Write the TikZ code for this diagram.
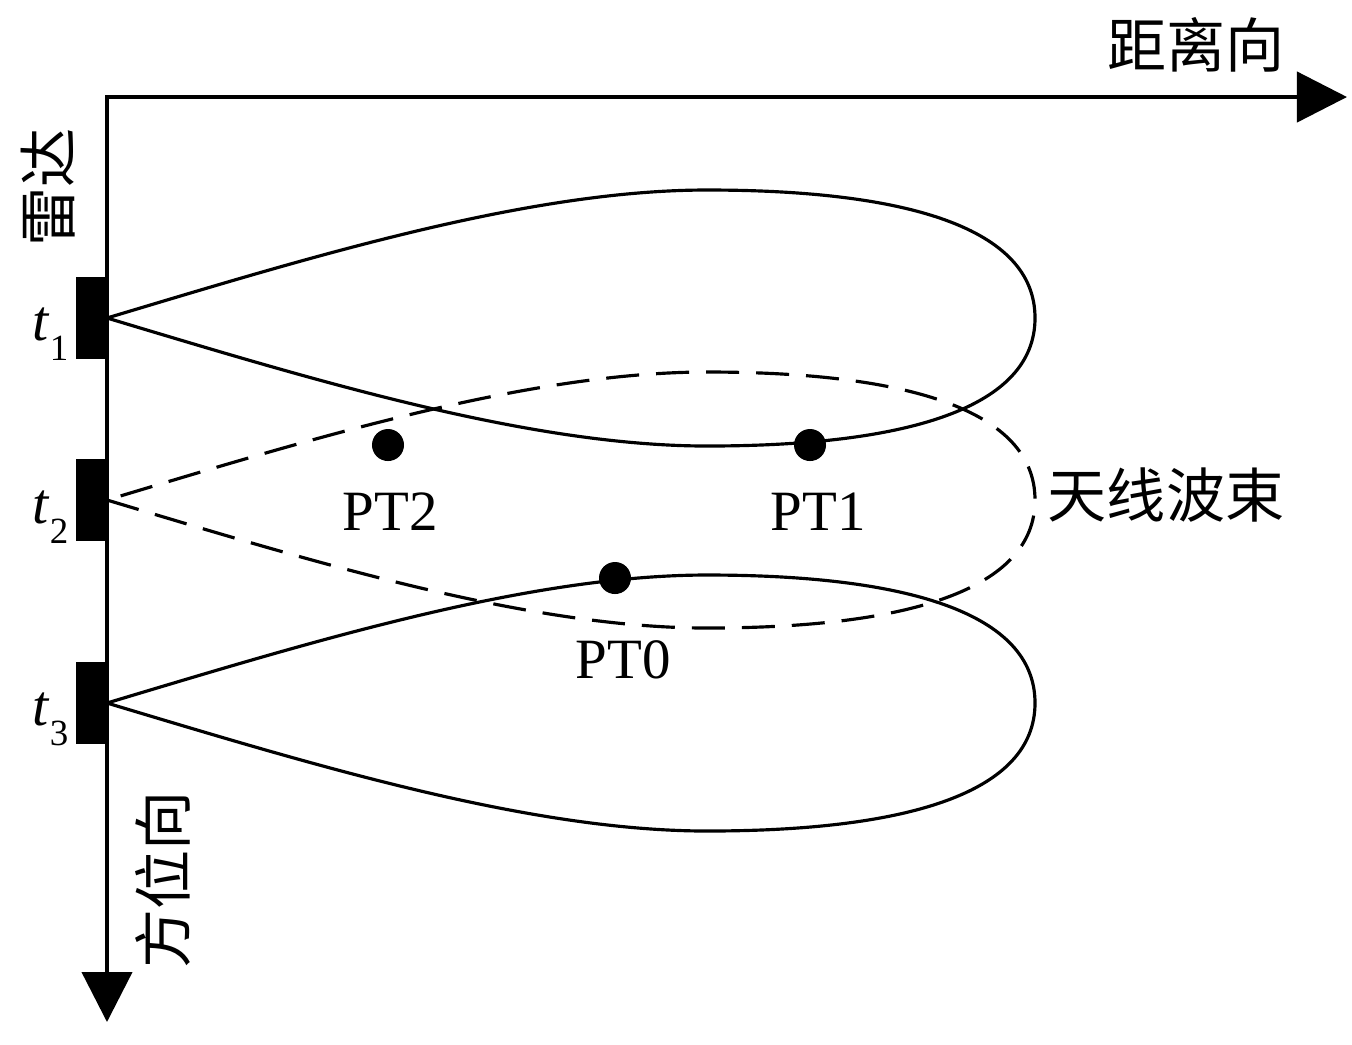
\documentclass[tikz,border=0pt]{standalone}
\usepackage{fontspec}
\setmainfont{Liberation Serif}
\newfontfamily\cjk{Noto Sans CJK SC}
\usetikzlibrary{arrows.meta}

\newcommand{\tsub}[1]{\textit{t}\raisebox{-0.36em}{\fontsize{10.5}{10.5}\selectfont #1}}

\begin{document}
\begin{tikzpicture}[x=0.01cm, y=-0.01cm, >={Triangle[length=0.5cm,width=0.5cm]},
  axis/.style={line width=1.2pt},
  beam/.style={line width=0.9pt},
  radar/.style={rectangle, fill=black, inner sep=0pt, minimum width=0.3cm, minimum height=0.82cm, anchor=east},
  dot/.style={circle, fill=black, inner sep=0pt, minimum size=0.32cm},
  cn/.style={font=\cjk\fontsize{16.8}{18}\selectfont, inner sep=0pt},
  lbl/.style={font=\fontsize{16.2}{18}\selectfont, inner sep=0pt},
  lobe/.pic={
    \draw (0,0) .. controls (200,60) and (420,128) .. (600,128)
      .. controls (800,128) and (928,90) .. (928,0)
      .. controls (928,-90) and (800,-128) .. (600,-128)
      .. controls (420,-128) and (200,-60) .. cycle;
  }]
  \useasboundingbox (0,0) rectangle (1352,1044);
  %% Axes
  \coordinate (o) at (107,97);
  \coordinate (xend) at (1347,97);
  \coordinate (yend) at (107,1022);
  \draw[axis,<->] (xend) -- (o) -- (yend);
  \node[cn] (range) at (1196,45) {距离向};
  \node[cn, rotate=90] (azimuth) at (163,880) {方位向};
  \node[cn, rotate=90] (radarlbl) at (48,187) {雷达};
  %% Radar positions
  \node[radar] (r1) at (107,318) {};
  \node[radar] (r2) at (107,500) {};
  \node[radar] (r3) at (107,703) {};
  \node[anchor=base west, inner sep=0pt, font=\fontsize{16.5}{18}\selectfont] (t1) at (32,340) {\tsub{1}};
  \node[anchor=base west, inner sep=0pt, font=\fontsize{16.5}{18}\selectfont] (t2) at (32,523) {\tsub{2}};
  \node[anchor=base west, inner sep=0pt, font=\fontsize{16.5}{18}\selectfont] (t3) at (32,725) {\tsub{3}};
  %% Antenna beams
  \pic[beam] at (r1.east) {lobe};
  \pic[beam, dash pattern=on 0.33cm off 0.17cm] at (r2.east) {lobe};
  \pic[beam] at (r3.east) {lobe};
  \node[cn] (beamlbl) at (1166,495) {天线波束};
  %% Point targets
  \node[dot] (pt2) at (388,445) {};
  \node[dot] (pt1) at (810,445) {};
  \node[dot] (pt0) at (615,578) {};
  \node[lbl, anchor=base] (pt2lbl) at (390,530) {PT2};
  \node[lbl, anchor=base] (pt1lbl) at (818,530) {PT1};
  \node[lbl, anchor=base] (pt0lbl) at (623,678) {PT0};
\end{tikzpicture}
\end{document}
